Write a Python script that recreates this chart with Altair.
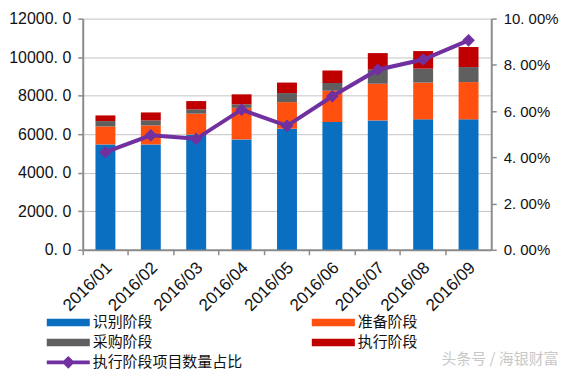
import altair as alt
import pandas as pd

months = ["2016/01", "2016/02", "2016/03", "2016/04", "2016/05",
          "2016/06", "2016/07", "2016/08", "2016/09"]
stages = ["识别阶段", "准备阶段", "采购阶段", "执行阶段"]
stage_colors = ["#0B6FC1", "#FF5010", "#5F5F5F", "#C00000"]
# legend fills column by column: this order gives rows 识别|准备, 采购|执行
legend_order = ["识别阶段", "采购阶段", "准备阶段", "执行阶段"]
legend_colors = ["#0B6FC1", "#5F5F5F", "#FF5010", "#C00000"]

identify = [5470, 5470, 5975, 5730, 6285, 6630, 6715, 6770, 6770]
prepare = [935, 985, 1090, 1640, 1380, 1620, 1905, 1910, 1935]
procure = [275, 260, 225, 180, 470, 405, 730, 725, 780]
execute = [295, 415, 430, 520, 545, 655, 860, 910, 1040]

share_pct = [4.22, 4.95, 4.80, 6.06, 5.36, 6.64, 7.79, 8.23, 9.06]
line_name = "执行阶段项目数量占比"
line_color = "#7030A0"

left_ticks = [0, 2000, 4000, 6000, 8000, 10000, 12000]
right_ticks = [0, 0.02, 0.04, 0.06, 0.08, 0.10]

rows = []
for i, m in enumerate(months):
    for k, (s, vals) in enumerate(zip(stages, [identify, prepare, procure, execute])):
        rows.append({"month": m, "stage": s, "idx": k, "value": vals[i]})
df_bar = pd.DataFrame(rows)
df_line = pd.DataFrame({"month": months, "share": [v / 100 for v in share_pct],
                        "series": [line_name] * len(months)})
df_mark = pd.DataFrame({"t": ["头条号 / 海银财富"]})

AX = "#8C8C8C"
xdef = alt.X("month:N", sort=months,
             scale=alt.Scale(paddingInner=0, paddingOuter=0),
             axis=alt.Axis(title=None, labelAngle=-45, labelAlign="right",
                           labelBaseline="middle", labelFontSize=17,
                           labelPadding=10, labelOffset=4, tickSize=5,
                           bandPosition=0,
                           domainColor=AX, domainWidth=2, tickColor=AX,
                           tickWidth=1.5, grid=False, labelColor="#111"))

rect_path = "M-2.7,-0.47H2.7V0.47H-2.7Z"
line_path = "M-2.7,-0.25H2.7V0.25H-2.7Z M0,-0.8L0.8,0L0,0.8L-0.8,0Z"

bars = alt.Chart(df_bar).mark_bar(size=20).encode(
    x=xdef,
    y=alt.Y("value:Q", stack="zero",
            scale=alt.Scale(domain=[0, 12000], nice=False),
            axis=alt.Axis(title=None, values=left_ticks,
                          labelExpr="replace(format(datum.value, '.1f'), '.', '. ')",
                          labelFontSize=16, labelPadding=7, tickSize=5,
                          domainColor=AX, domainWidth=2, tickColor=AX,
                          tickWidth=1.5, grid=True, gridColor="#C4C4C4",
                          gridWidth=1, labelColor="#111")),
    color=alt.Color("stage:N",
                    scale=alt.Scale(domain=legend_order, range=legend_colors),
                    legend=alt.Legend(title=None, orient="none", legendX=-22.5,
                                      legendY=297, columns=2, columnPadding=159,
                                      rowPadding=4, symbolType=rect_path,
                                      symbolSize=256, symbolStrokeWidth=0,
                                      symbolOpacity=1, labelFontSize=15,
                                      labelFont="Noto Sans CJK SC",
                                      labelOffset=16.5, labelLimit=300,
                                      padding=0, labelColor="#111")),
    order=alt.Order("idx:Q", sort="ascending"),
)

yright = alt.Y("share:Q", scale=alt.Scale(domain=[0, 0.1], nice=False),
               axis=alt.Axis(title=None, orient="right", values=right_ticks,
                             labelExpr="replace(format(datum.value, '.2%'), '.', '. ')",
                             labelFontSize=15, labelPadding=7, tickSize=5,
                             domainColor=AX, domainWidth=2, tickColor=AX,
                             tickWidth=1.5, grid=False, labelColor="#111"))

line = alt.Chart(df_line).mark_line(color=line_color, strokeWidth=4).encode(
    x=xdef, y=yright)
points = alt.Chart(df_line).mark_point(shape="diamond", filled=True, size=160,
                                       opacity=1).encode(
    x=xdef, y=yright,
    fill=alt.Fill("series:N", scale=alt.Scale(domain=[line_name], range=[line_color]),
                  legend=alt.Legend(title=None, orient="none", legendX=-22.5,
                                    legendY=337, symbolType=line_path,
                                    symbolSize=256, symbolStrokeWidth=0,
                                    symbolOpacity=1, labelFontSize=15,
                                    labelFont="Noto Sans CJK SC",
                                    labelOffset=16.5, labelLimit=300,
                                    padding=0, labelColor="#111")),
)

mark = alt.Chart(df_mark).mark_text(align="left", baseline="middle", fontSize=15,
                                    color="#C8C8C8",
                                    font="Noto Sans CJK SC").encode(
    text="t:N", x=alt.value(360), y=alt.value(342))

chart = alt.layer(bars, alt.layer(line, points), mark).resolve_scale(
    y="independent"
).properties(
    width=410, height=232,
    padding={"left": 0, "top": 2, "right": 0, "bottom": 0},
).configure_view(stroke=None).configure_axis(labelFont="Liberation Sans")

chart.save("out.html", embed_options={"renderer": "svg", "actions": False})
